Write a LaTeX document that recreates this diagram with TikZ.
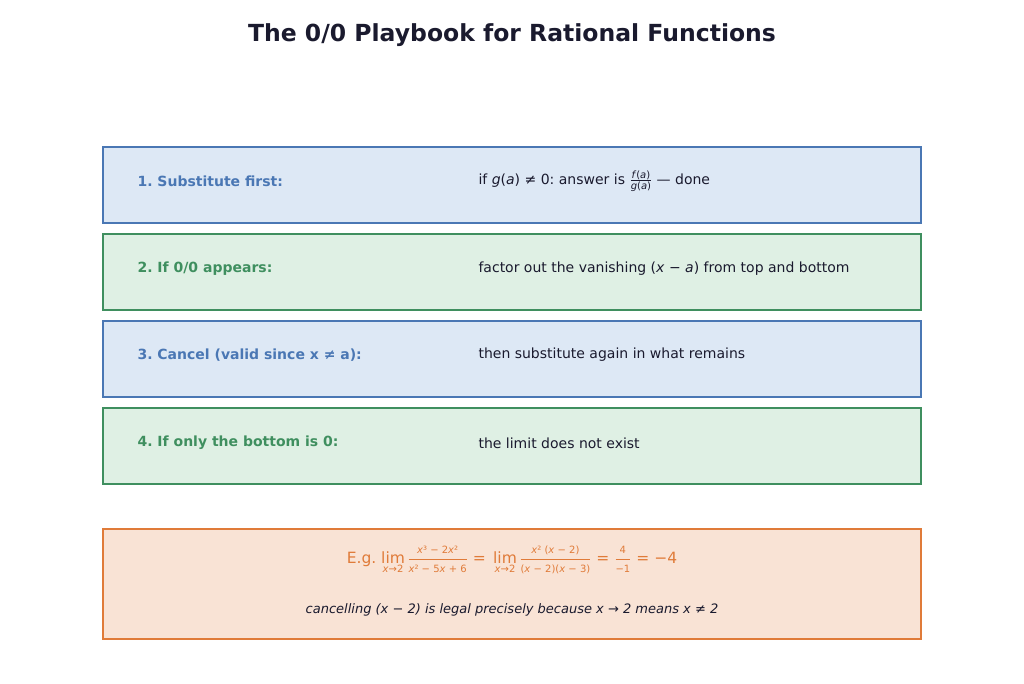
\documentclass[tikz,border=0pt]{standalone}
\usepackage{amsmath}
\usepackage{fontspec}
\setmainfont{DejaVu Sans}
\frenchspacing
\newcommand{\sm}[1]{\text{\fontsize{10}{12}\selectfont #1}}
\newcommand{\tx}[1]{\text{#1}}
\newcommand{\lm}{\mathop{\tx{lim}}\limits_{\sm{\textit{x}→2}}}
\begin{document}
\definecolor{bb}{HTML}{4A77B4}\definecolor{bf}{HTML}{DDE8F5}
\definecolor{gb}{HTML}{3F8F5F}\definecolor{gf}{HTML}{DFF0E4}
\definecolor{ob}{HTML}{E07B39}\definecolor{of}{HTML}{F9E3D5}
\definecolor{dk}{HTML}{1A1A2E}
\begin{tikzpicture}[x=1pt,y=-1pt,
 box/.style={draw=#1b,fill=#1f,line width=1.5pt},
 lab/.style={anchor=west,font=\fontsize{14}{16}\selectfont\bfseries,text=#1},
 txt/.style={anchor=west,font=\fontsize{14}{16}\selectfont,text=dk}]
\useasboundingbox (0,0) rectangle (1024,683);
\node[font=\fontsize{23.5}{28}\selectfont\bfseries,text=dk] (t) at (512,35) {The 0/0 Playbook for Rational Functions};
\draw[box=b] (103,147) rectangle (921,223);
\draw[box=g] (103,234) rectangle (921,310);
\draw[box=b] (103,321) rectangle (921,397);
\draw[box=g] (103,408) rectangle (921,484);
\draw[box=o] (103,529) rectangle (921,639);
\node[lab=bb] (l1) at (134,181) {1. Substitute first:};
\node[lab=gb] (l2) at (134,269) {2. If 0/0 appears:};
\node[lab=bb] (l3) at (134,355) {3. Cancel (valid since x ≠ a):};
\node[lab=gb] (l4) at (134,443) {4. If only the bottom is 0:};
\node[txt] (r1) at (475,181) {if \textit{g}(\textit{a}) ≠ 0: answer is $\frac{\sm{\textit{f}(\textit{a})}}{\sm{\textit{g}(\textit{a})}}$ — done};
\node[txt] (r2) at (475,269) {factor out the vanishing (\textit{x} − \textit{a}) from top and bottom};
\node[txt] (r3) at (475,355) {then substitute again in what remains};
\node[txt] (r4) at (475,443) {the limit does not exist};
\node[font=\fontsize{15.5}{18}\selectfont,text=ob] (e) at (512,560) {E.g. $\displaystyle\lm\frac{\sm{\textit{x}³ − 2\textit{x}²}}{\sm{\textit{x}² − 5\textit{x} + 6}}\tx{ = }\lm\frac{\sm{\textit{x}² (\textit{x} − 2)}}{\sm{(\textit{x} − 2)(\textit{x} − 3)}}\tx{ = }\frac{\sm{4}}{\sm{−1}}\tx{ = −4}$};
\node[font=\fontsize{13}{15}\selectfont\itshape,text=dk] (c) at (512,610) {cancelling (x − 2) is legal precisely because x → 2 means x ≠ 2};
\end{tikzpicture}
\end{document}
